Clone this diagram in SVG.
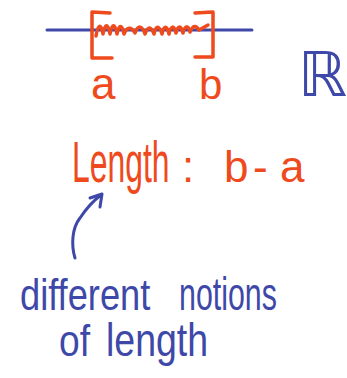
<svg xmlns="http://www.w3.org/2000/svg" width="347" height="378" viewBox="0 0 347 378">
<style>
.red{fill:#ee4a1d;font-family:"Liberation Sans","DejaVu Sans",sans-serif}
.blue{fill:#3e48a8;font-family:"Liberation Sans","DejaVu Sans",sans-serif}
.rs{fill:none;stroke:#ee4a1d;stroke-width:3.5;stroke-linecap:round;stroke-linejoin:round}
.bs{fill:none;stroke:#3e48a8;stroke-width:3;stroke-linecap:round;stroke-linejoin:round}
</style>
<rect width="347" height="378" fill="#ffffff"/>
<g id="real-line">
<line class="bs" x1="47" y1="30" x2="252" y2="30"/>
<text class="blue" x="298" y="96" font-size="62">ℝ</text>
</g>
<g id="interval">
<path class="rs" d="M110,13 L92,12 L92,58 L112,58"/>
<path class="rs" d="M195,13 L213,12 L213,57 L195,57"/>
<path class="rs" stroke-width="2.5" d="M96,36 C98,24 101,23 103,34 C105,23 108,23 110,34 C112,23 115,23 117,34 C119,24 122,24 124,34 C127,27 131,26 135,33 C138,25 142,25 145,34 C148,26 151,26 154,34 C156,25 159,25 162,34 C164,25 167,25 169,34 C171,25 174,25 176,33 C178,25 181,25 183,33 C185,25 188,25 190,32 C193,25 196,25 199,30 L208,25"/>
<text class="red" x="91" y="99" font-size="44">a</text>
<text class="red" x="199" y="99" font-size="42">b</text>
</g>
<g id="length">
<text class="red" font-size="58" transform="translate(72,182) scale(0.55,1)">Length</text>
<text class="red" x="182" y="182" font-size="44">:</text>
<text class="red" x="224" y="182" font-size="44">b</text>
<text class="red" x="253" y="182" font-size="44">-</text>
<text class="red" x="280" y="182" font-size="44">a</text>
</g>
<g id="note">
<text class="blue" font-size="44" transform="translate(20,310) scale(0.824,1)">different</text>
<text class="blue" font-size="46" transform="translate(179,310) scale(0.66,1)">notions</text>
<text class="blue" font-size="44" transform="translate(59,356) scale(0.845,1)">of</text>
<text class="blue" font-size="46" transform="translate(106,356) scale(0.815,1)">length</text>
</g>
<g id="connectors">
<path class="bs" d="M75,258 C71,245 72,228 80,218 C86,209 93,201 101,195"/>
<path class="bs" d="M90,198 L102,194 L100,207"/>
</g>
</svg>
